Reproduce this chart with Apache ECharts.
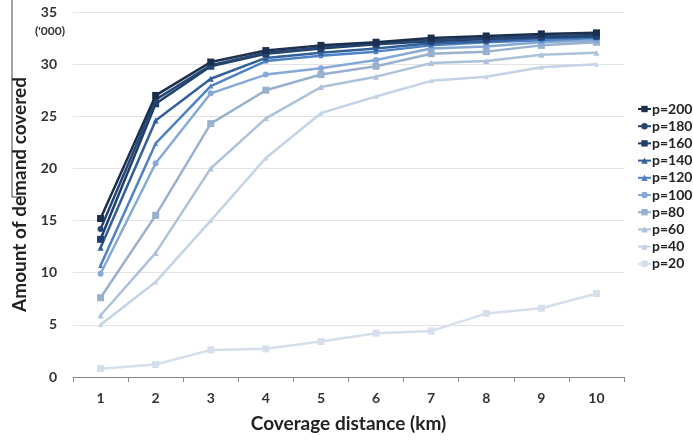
<!DOCTYPE html>
<html><head><meta charset="utf-8">
<script src="https://cdn.jsdelivr.net/npm/echarts@6/dist/echarts.min.js"></script>
<style>html,body{margin:0;padding:0;background:#fff}#c{width:693px;height:441px}</style>
</head><body><div id="c"></div>
<script>
var categories = ['1','2','3','4','5','6','7','8','9','10'];
var yTicks = [0,5,10,15,20,25,30,35];
var p200 = [15.2, 27.0, 30.2, 31.3, 31.8, 32.1, 32.5, 32.7, 32.9, 33.0];
var p180 = [14.2, 26.6, 29.9, 31.1, 31.6, 32.0, 32.3, 32.5, 32.7, 32.8];
var p160 = [13.2, 26.2, 29.8, 31.0, 31.5, 31.9, 32.2, 32.4, 32.6, 32.7];
var p140 = [12.4, 24.6, 28.6, 30.6, 31.1, 31.5, 32.0, 32.2, 32.5, 32.6];
var p120 = [10.7, 22.4, 27.9, 30.3, 30.8, 31.2, 31.8, 32.1, 32.3, 32.5];
var p100 = [9.9, 20.5, 27.2, 29.0, 29.6, 30.4, 31.5, 31.7, 32.1, 32.3];
var p80  = [7.6, 15.5, 24.3, 27.5, 29.0, 29.8, 31.0, 31.2, 31.8, 32.1];
var p60  = [5.9, 11.9, 20.0, 24.8, 27.8, 28.8, 30.1, 30.3, 30.9, 31.1];
var p40  = [5.0, 9.1, 15.0, 21.0, 25.3, 26.9, 28.4, 28.8, 29.7, 30.0];
var p20  = [0.8, 1.2, 2.6, 2.7, 3.4, 4.2, 4.4, 6.1, 6.6, 8.0];
var seriesNames = ['p=20','p=40','p=60','p=80','p=100','p=120','p=140','p=160','p=180','p=200'];
var seriesData = [p20,p40,p60,p80,p100,p120,p140,p160,p180,p200];
var colors = ['#d6dfec','#c5d3e6','#adc2da','#98b1cf','#86a9d8','#4e82c4','#33609a','#1f3f6e','#274672','#1b2f4f'];
var symbols = ['rect','triangle','triangle','rect','circle','triangle','triangle','rect','circle','rect'];
var sizes = [7,5,6,7,6,5,6,7,6,7];

var font = 'Lato, "Open Sans", sans-serif';
var series = seriesNames.map(function(n,i){
  return {
    name: n, type: 'line', data: seriesData[i],
    symbol: symbols[i], symbolSize: sizes[i],
    lineStyle: {color: colors[i], width: 2.5},
    itemStyle: {color: colors[i]},
    z: 2 + i
  };
});
var chart = echarts.init(document.getElementById('c'), null, {renderer:'canvas'});
chart.setOption({
  animation: false,
  backgroundColor: '#fff',
  grid: {left: 73, right: 69, top: 12, bottom: 64},
  legend: {
    orient: 'vertical', left: 632, top: 97,
    data: seriesNames.slice().reverse(),
    itemWidth: 13, itemHeight: 8, itemGap: 3.2,
    textStyle: {fontFamily: font, fontWeight: 'bold', fontSize: 14, color: '#222', padding: [0,0,0,-4]}
  },
  xAxis: {
    type: 'category', data: categories, boundaryGap: true,
    name: 'Coverage distance (km)', nameLocation: 'middle', nameGap: 37,
    nameTextStyle: {fontFamily: font, fontWeight: 'bold', fontSize: 19, color: '#222'},
    axisLine: {lineStyle: {color: '#888', width: 1}},
    axisTick: {show: true, length: 5, lineStyle: {color: '#888'}},
    axisLabel: {fontFamily: font, fontWeight: 'bold', fontSize: 14, color: '#333', margin: 14}
  },
  yAxis: {
    type: 'value', min: 0, max: 35, interval: 5,
    name: 'Amount of demand covered', nameLocation: 'middle', nameGap: 38,
    nameTextStyle: {fontFamily: font, fontWeight: 'bold', fontSize: 19, color: '#222'},
    axisLine: {show: false}, axisTick: {show: false},
    splitLine: {lineStyle: {color: '#e3e3e3', width: 1}},
    axisLabel: {fontFamily: font, fontWeight: 'bold', fontSize: 14, color: '#333', margin: 16,
      formatter: function(v){ return yTicks.indexOf(v) >= 0 ? String(v) : ''; }}
  },
  graphic: [
    {type: 'text', left: 35, top: 25, style: {text: "('000)", font: 'bold 12px ' + font, fill: '#333'}},
    {type: 'line', shape: {x1: 12, y1: 0, x2: 12, y2: 197}, style: {stroke: '#444', lineWidth: 1}},
    {type: 'line', shape: {x1: 12, y1: 197, x2: 25, y2: 197}, style: {stroke: '#444', lineWidth: 1}}
  ],
  series: series
});
</script></body></html>
